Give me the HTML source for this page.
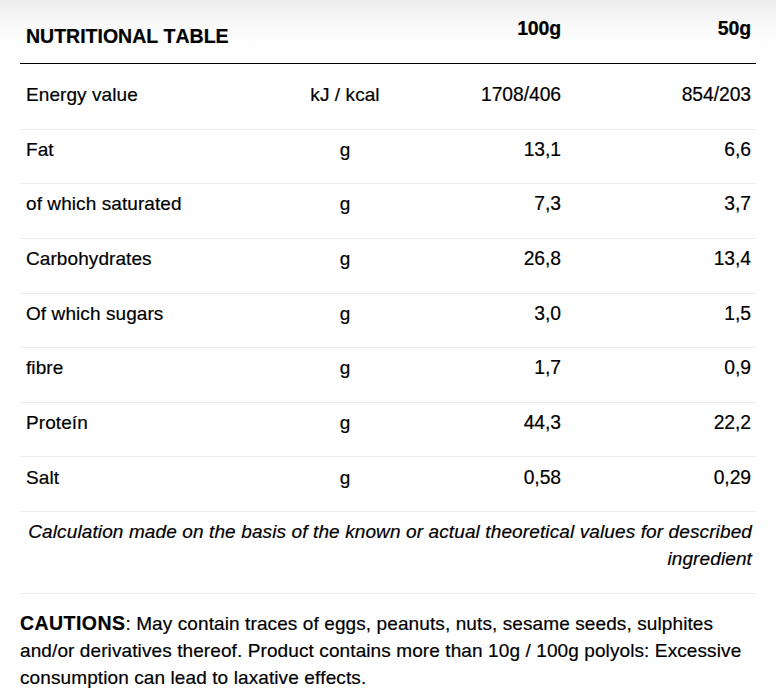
<!DOCTYPE html>
<html lang="en">
<head>
<meta charset="utf-8">
<title>Nutritional table</title>
<style>
html,body{margin:0;padding:0;}
body{width:776px;height:700px;overflow:hidden;position:relative;background:#fff;
  font-family:"Liberation Sans",Arial,Helvetica,sans-serif;font-size:19px;letter-spacing:0.08px;color:#000;
  -webkit-text-stroke:0.2px #000;font-variant-ligatures:none;font-kerning:none;}
.bg{position:absolute;left:0;top:0;width:776px;height:64px;
  background:linear-gradient(to bottom,#ececec 0px,#f3f3f3 12px,#f9f9f9 25px,#fdfdfd 40px,#fff 56px);}
.hl{position:absolute;left:20px;width:736px;height:1px;background:#ebebeb;}
.hl.dk{background:#000;}
.t{position:absolute;white-space:nowrap;line-height:20px;height:20px;}
.l{left:26px;}
.c{left:345px;width:0;display:flex;justify-content:center;}
.r3{right:215px;text-align:right;}
.r4{right:25px;text-align:right;}
b,.b{font-weight:bold;font-size:19.5px;}
.ttl{letter-spacing:0.0px;}
.hdr{letter-spacing:-0.15px;}
.cb{letter-spacing:0.45px;}
.num{letter-spacing:-0.05px;font-size:19.3px;}
.note{position:absolute;left:0px;right:24px;text-align:right;font-style:italic;line-height:27px;white-space:nowrap;letter-spacing:0.115px;}
.caut{position:absolute;left:20px;right:0;line-height:27px;white-space:nowrap;letter-spacing:0.1px;}
</style>
</head>
<body>
<div class="bg"></div>
<div class="hl dk" style="top:63px"></div>

<div class="t l b ttl" style="top:26px">NUTRITIONAL TABLE</div>
<div class="t r3 b hdr" style="top:18px">100g</div>
<div class="t r4 b hdr" style="top:18px">50g</div>
<div class="t l" style="top:85px">Energy value</div>
<div class="t c" style="top:85px"><span>kJ / kcal</span></div>
<div class="t r3 num" style="top:85px">1708/406</div>
<div class="t r4 num" style="top:85px">854/203</div>
<div class="hl" style="top:129px"></div>
<div class="t l" style="top:140px">Fat</div>
<div class="t c" style="top:140px"><span>g</span></div>
<div class="t r3 num" style="top:140px">13,1</div>
<div class="t r4 num" style="top:140px">6,6</div>
<div class="hl" style="top:183px"></div>
<div class="t l" style="top:194px">of which saturated</div>
<div class="t c" style="top:194px"><span>g</span></div>
<div class="t r3 num" style="top:194px">7,3</div>
<div class="t r4 num" style="top:194px">3,7</div>
<div class="hl" style="top:238px"></div>
<div class="t l" style="top:249px">Carbohydrates</div>
<div class="t c" style="top:249px"><span>g</span></div>
<div class="t r3 num" style="top:249px">26,8</div>
<div class="t r4 num" style="top:249px">13,4</div>
<div class="hl" style="top:293px"></div>
<div class="t l" style="top:304px">Of which sugars</div>
<div class="t c" style="top:304px"><span>g</span></div>
<div class="t r3 num" style="top:304px">3,0</div>
<div class="t r4 num" style="top:304px">1,5</div>
<div class="hl" style="top:347px"></div>
<div class="t l" style="top:358px">fibre</div>
<div class="t c" style="top:358px"><span>g</span></div>
<div class="t r3 num" style="top:358px">1,7</div>
<div class="t r4 num" style="top:358px">0,9</div>
<div class="hl" style="top:402px"></div>
<div class="t l" style="top:413px">Proteín</div>
<div class="t c" style="top:413px"><span>g</span></div>
<div class="t r3 num" style="top:413px">44,3</div>
<div class="t r4 num" style="top:413px">22,2</div>
<div class="hl" style="top:456px"></div>
<div class="t l" style="top:468px">Salt</div>
<div class="t c" style="top:468px"><span>g</span></div>
<div class="t r3 num" style="top:468px">0,58</div>
<div class="t r4 num" style="top:468px">0,29</div>
<div class="hl" style="top:511px"></div>
<div class="note" style="top:518px">Calculation made on the basis of the known or actual theoretical values for described<br>ingredient</div>
<div class="hl" style="top:593px"></div>
<div class="caut" style="top:610px"><b class="cb">CAUTIONS</b>: May contain traces of eggs, peanuts, nuts, sesame seeds, sulphites<br>and/or derivatives thereof. Product contains more than 10g / 100g polyols: Excessive<br>consumption can lead to laxative effects.</div>
</body>
</html>
